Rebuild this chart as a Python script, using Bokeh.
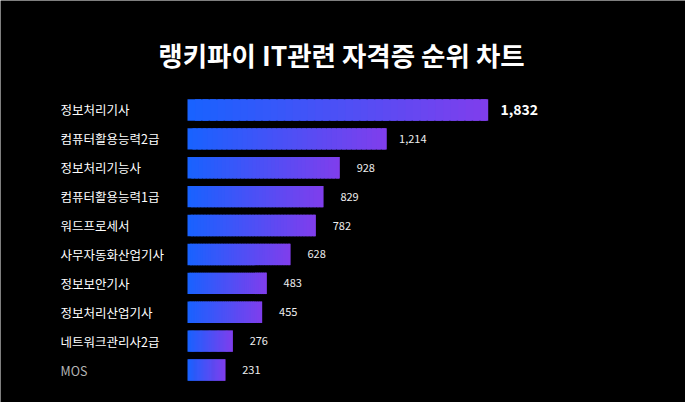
from bokeh.plotting import figure
from bokeh.models import ColumnDataSource, Range1d, Label
from bokeh.embed import file_html
from bokeh.resources import INLINE
from bokeh.core.properties import value

# ---- data ----
categories = ["정보처리기사", "컴퓨터활용능력2급", "정보처리기능사", "컴퓨터활용능력1급", "워드프로세서",
              "사무자동화산업기사", "정보보안기사", "정보처리산업기사", "네트워크관리사2급", "MOS"]
counts = [1832, 1214, 928, 829, 782, 628, 483, 455, 276, 231]
title_text = "랭키파이 IT관련 자격증 순위 차트"

FONT = "Noto Sans CJK KR"
BLUE = (24, 98, 255)
PURPLE = (128, 62, 236)
N = 40
BAR_H = 0.74

# layout (pixels within the 685x402 canvas)
W, H = 685, 402
ZERO_PX = 187          # canvas x of value 0
PX_PER_UNIT = 0.16414  # horizontal scale
ROW0_PX = 109.45       # canvas y of first bar centre
ROW_PX = 28.9          # row pitch

x0 = -ZERO_PX / PX_PER_UNIT
x1 = x0 + W / PX_PER_UNIT
y_top = -ROW0_PX / ROW_PX
y_bot = y_top + H / ROW_PX

p = figure(width=W, height=H, x_range=Range1d(x0, x1), y_range=Range1d(y_bot, y_top),
           output_backend="svg", toolbar_location=None, x_axis_type=None, y_axis_type=None,
           min_border=0, background_fill_color="black", border_fill_color="black")
p.outline_line_color = None
p.grid.visible = False

# gradient bars (each bar split into overlapping slices derived from its own value)
L, R, T, B, C = [], [], [], [], []
for i, v in enumerate(counts):
    for k in range(N):
        t = (k + 0.5) / N
        col = tuple(int(round(BLUE[j] + (PURPLE[j] - BLUE[j]) * t)) for j in range(3))
        L.append(v * k / N)
        R.append(min(v, v * (k + 1.8) / N))
        T.append(i - BAR_H / 2)
        B.append(i + BAR_H / 2)
        C.append("#%02x%02x%02x" % col)
p.quad(left=L, right=R, top=T, bottom=B, fill_color=C, line_color=None)

# category labels (left aligned)
cat_colors = ["#ffffff"] * (len(categories) - 1) + ["#b4b4b4"]
cat_src = ColumnDataSource(dict(y=list(range(len(categories))), text=categories,
                                x=[x0] * len(categories), color=cat_colors))
p.text(x="x", y="y", text="text", source=cat_src, x_offset=60,
       text_align="left", text_baseline="middle", text_color="color",
       text_font=value(FONT), text_font_size="12.5px")

# value labels
val_src = ColumnDataSource(dict(x=counts[1:], y=list(range(1, len(counts))),
                                text=[f"{c:,}" for c in counts[1:]]))
p.text(x="x", y="y", text="text", source=val_src, x_offset=26,
       text_align="center", text_baseline="middle", text_color="#eeeeee",
       text_font=value(FONT), text_font_size="11px")
p.text(x=[counts[0]], y=[0], text=[f"{counts[0]:,}"], x_offset=31,
       text_align="center", text_baseline="middle", text_color="white",
       text_font=value(FONT), text_font_size="14px", text_font_style="bold")

# title
p.add_layout(Label(x=341, y=H - 53.5, x_units="screen", y_units="screen", text=title_text,
                   text_align="center", text_baseline="middle", text_color="white",
                   text_font=FONT, text_font_size="26.5px", text_font_style="bold"))

open("out.html", "w").write(file_html(p, INLINE))
